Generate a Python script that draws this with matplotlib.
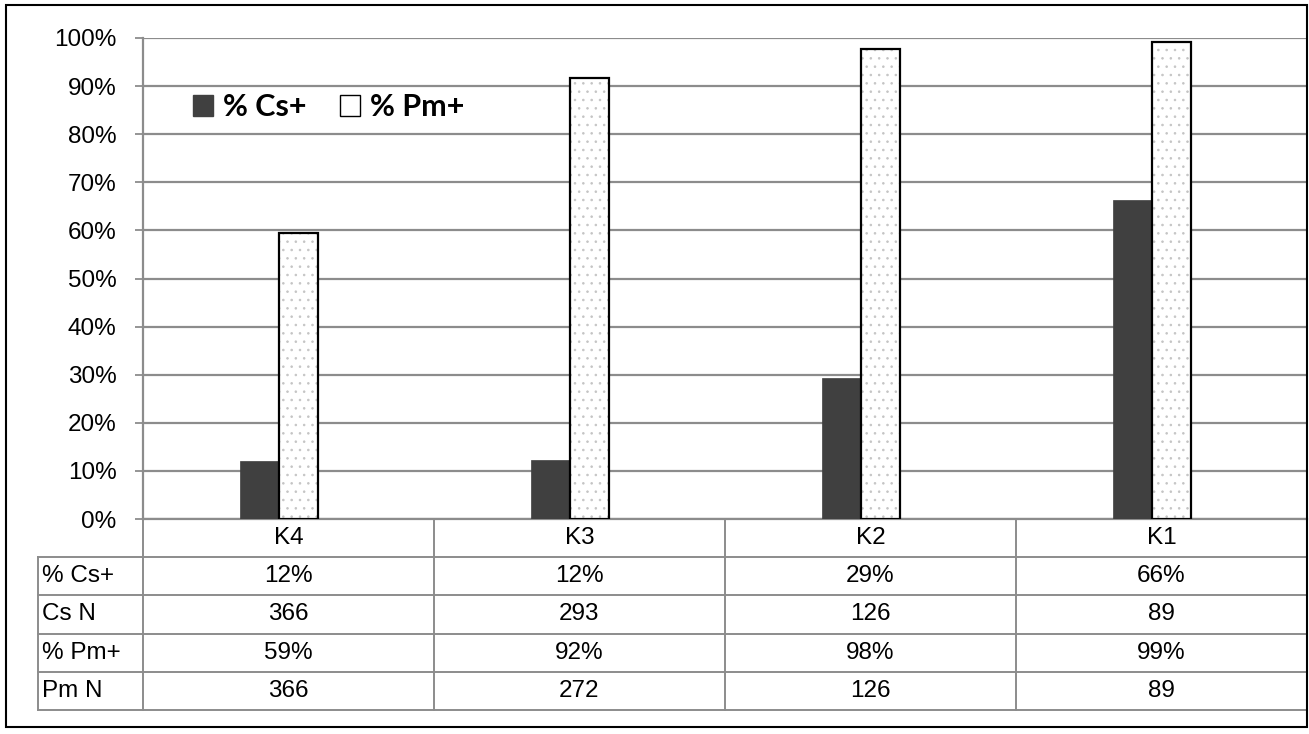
import matplotlib
matplotlib.use("Agg")
import matplotlib.pyplot as plt
from matplotlib.patches import Patch, Rectangle
import numpy as np

# chart values
categories = ["K4", "K3", "K2", "K1"]
cs_pct = [12.1, 12.3, 29.3, 66.3]
pm_pct = [59.4, 91.7, 97.8, 99.1]

# table rows
row_labels = ["% Cs+", "Cs N", "% Pm+", "Pm N"]
row_cs_pct = ["12%", "12%", "29%", "66%"]
row_cs_n = ["366", "293", "126", "89"]
row_pm_pct = ["59%", "92%", "98%", "99%"]
row_pm_n = ["366", "272", "126", "89"]
table_rows = [row_cs_pct, row_cs_n, row_pm_pct, row_pm_n]

W, H = 1309, 734
plt.rcParams['font.family'] = ['Liberation Sans', 'DejaVu Sans']
plt.rcParams['hatch.linewidth'] = 0.6
fig = plt.figure(figsize=(W / 100, H / 100), dpi=100)

grid_col = '#8c8c8c'
fs = 17.5

# plot area in pixels
px_left, px_right = 143, 1307
px_top, px_bottom = 38, 519
ax = fig.add_axes([px_left / W, 1 - px_bottom / H, (px_right - px_left) / W, (px_bottom - px_top) / H])

x = np.arange(len(categories))
bw = 0.134
shift = -0.034
ax.bar(x + shift - bw / 2, cs_pct, bw, color='#404040', edgecolor='#404040', linewidth=0.5, zorder=3)
ax.bar(x + shift + bw / 2, pm_pct, bw, color='white', edgecolor='#c4c4c4', hatch='..', linewidth=0, zorder=3)
ax.bar(x + shift + bw / 2, pm_pct, bw, fill=False, edgecolor='black', linewidth=1.6, zorder=4)

ax.set_xlim(-0.5, 3.5)
ax.set_ylim(0, 100)
ax.set_yticks(np.arange(0, 101, 10))
ax.set_yticklabels([f"{v}%" for v in range(0, 101, 10)], fontsize=fs)
ax.yaxis.grid(True, color=grid_col, linewidth=1.6, zorder=0)
ax.tick_params(axis='y', length=6, width=1.3, color=grid_col, pad=13)
ax.set_xticks([])
for s in ['top', 'right']:
    ax.spines[s].set_visible(False)
ax.spines['left'].set_color(grid_col)
ax.spines['left'].set_linewidth(1.6)
ax.spines['bottom'].set_color(grid_col)
ax.spines['bottom'].set_linewidth(1.6)

# legend
handles = [Patch(facecolor='#404040', edgecolor='#404040'),
           Patch(facecolor='white', edgecolor='black', linewidth=1)]
leg = ax.legend(handles, ["% Cs+", "% Pm+"], loc='upper left', bbox_to_anchor=(0.019, 0.942),
                ncol=2, frameon=False, handlelength=0.68, handleheight=0.68, handletextpad=0.3,
                columnspacing=1.1, prop={'family': 'Lato', 'weight': 'bold', 'size': 22})

# data table below the plot
t_left, t_bottom = 38, 710
n_rows = len(table_rows) + 1
tax = fig.add_axes([t_left / W, 1 - t_bottom / H, (px_right - t_left) / W, (t_bottom - px_bottom) / H])
cat_w = (px_right - px_left) / len(categories)
x0 = -0.5 - (px_left - t_left) / cat_w
tax.set_xlim(x0, 3.5)
tax.set_ylim(n_rows, 0)
tax.axis('off')
lw = 1.4
# horizontal lines
tax.plot([-0.5, 3.5], [0, 0], color=grid_col, lw=lw)
for r in range(1, n_rows + 1):
    tax.plot([x0, 3.5], [r, r], color=grid_col, lw=lw, clip_on=False)
# vertical lines
tax.plot([x0, x0], [1, n_rows], color=grid_col, lw=lw, clip_on=False)
for b in np.arange(-0.5, 3.6, 1.0):
    tax.plot([b, b], [0, n_rows], color=grid_col, lw=lw, clip_on=False)
# header
for i, c in enumerate(categories):
    tax.text(i, 0.5, c, ha='center', va='center', fontsize=fs)
for r, (lab, vals) in enumerate(zip(row_labels, table_rows), start=1):
    tax.text(x0 + 0.015, r + 0.5, lab, ha='left', va='center', fontsize=fs)
    for i, v in enumerate(vals):
        tax.text(i, r + 0.5, v, ha='center', va='center', fontsize=fs)

# outer border
fig.add_artist(Rectangle((6 / W, 1 - 727 / H), (1307 - 6) / W, (727 - 5) / H,
                         transform=fig.transFigure, fill=False, edgecolor='black', linewidth=1.5))

fig.savefig("out.png", dpi=100)
